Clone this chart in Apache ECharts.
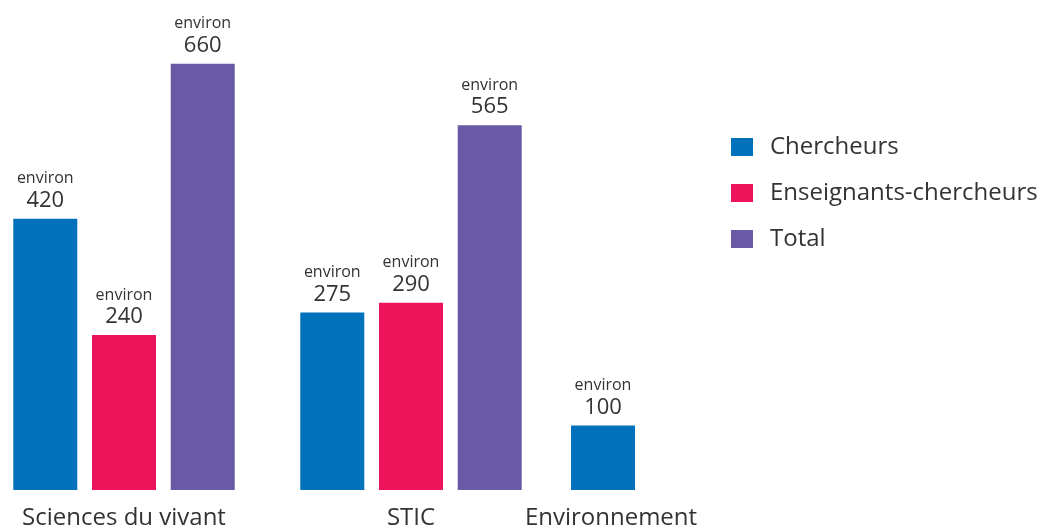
<!DOCTYPE html>
<html>
<head>
<meta charset="utf-8">
<script src="https://cdn.jsdelivr.net/npm/echarts@6/dist/echarts.min.js"></script>
<style>html,body{margin:0;padding:0;background:#fff;}#c{width:1049px;height:527px;}</style>
</head>
<body>
<div id="c"></div>
<script>
var categoriesMain = ['Sciences du vivant', 'STIC'];
var categoriesEnv = ['Environnement'];
var seriesNames = ['Chercheurs', 'Enseignants-chercheurs', 'Total'];
var chercheurs = [420, 275, 100];
var enseignants = [240, 290];
var total = [660, 565];
var labelPrefix = 'environ';

var colors = ['#0171bb', '#ee145b', '#6a5aa5'];
var FONT = '"Open Sans", sans-serif';

var chart = echarts.init(document.getElementById('c'), null, {renderer: 'canvas'});

function valueLabel() {
  return {
    show: true,
    position: 'top',
    distance: 5,
    formatter: function (p) { return '{a|' + labelPrefix + '}\n{b|' + p.value + '}'; },
    rich: {
      a: {fontFamily: FONT, fontSize: 16, color: '#333', lineHeight: 18, align: 'center'},
      b: {fontFamily: FONT, fontSize: 22, color: '#333', lineHeight: 26, align: 'center'}
    }
  };
}

function xAx(idx, data, pad) {
  return {
    type: 'category', gridIndex: idx, data: data,
    axisLine: {show: false}, axisTick: {show: false},
    axisLabel: {fontFamily: FONT, fontSize: 24, color: '#333', margin: 16, padding: pad}
  };
}
function yAx(idx) {
  return {
    type: 'value', gridIndex: idx, min: 0, max: 700,
    axisLine: {show: false}, axisTick: {show: false}, axisLabel: {show: false}, splitLine: {show: false}
  };
}

var option = {
  animation: false,
  backgroundColor: '#fff',
  legend: {
    orient: 'vertical', left: 731, top: 135, padding: 0,
    itemWidth: 22, itemHeight: 18, itemGap: 22,
    icon: 'rect',
    data: seriesNames,
    textStyle: {fontFamily: FONT, fontSize: 24, color: '#333', padding: [0, 0, 0, 12]}
  },
  grid: [
    {left: -19.5, width: 574, top: 38, bottom: 37, outerBoundsMode: 'none'},
    {left: 553, width: 100, top: 38, bottom: 37, outerBoundsMode: 'none'}
  ],
  xAxis: [xAx(0, categoriesMain, [0, 0, 0, 0]), xAx(1, categoriesEnv, [0, 0, 0, 16])],
  yAxis: [yAx(0), yAx(1)],
  series: [
    {name: seriesNames[0], type: 'bar', xAxisIndex: 0, yAxisIndex: 0, barWidth: 64, barGap: '23%',
     itemStyle: {color: colors[0]}, label: valueLabel(), data: chercheurs.slice(0, 2)},
    {name: seriesNames[1], type: 'bar', xAxisIndex: 0, yAxisIndex: 0, barWidth: 64, barGap: '23%',
     itemStyle: {color: colors[1]}, label: valueLabel(), data: enseignants},
    {name: seriesNames[2], type: 'bar', xAxisIndex: 0, yAxisIndex: 0, barWidth: 64, barGap: '23%',
     itemStyle: {color: colors[2]}, label: valueLabel(), data: total},
    {name: seriesNames[0], type: 'bar', xAxisIndex: 1, yAxisIndex: 1, barWidth: 64,
     itemStyle: {color: colors[0]}, label: valueLabel(), data: chercheurs.slice(2)}
  ]
};
chart.setOption(option);
</script>
</body>
</html>
